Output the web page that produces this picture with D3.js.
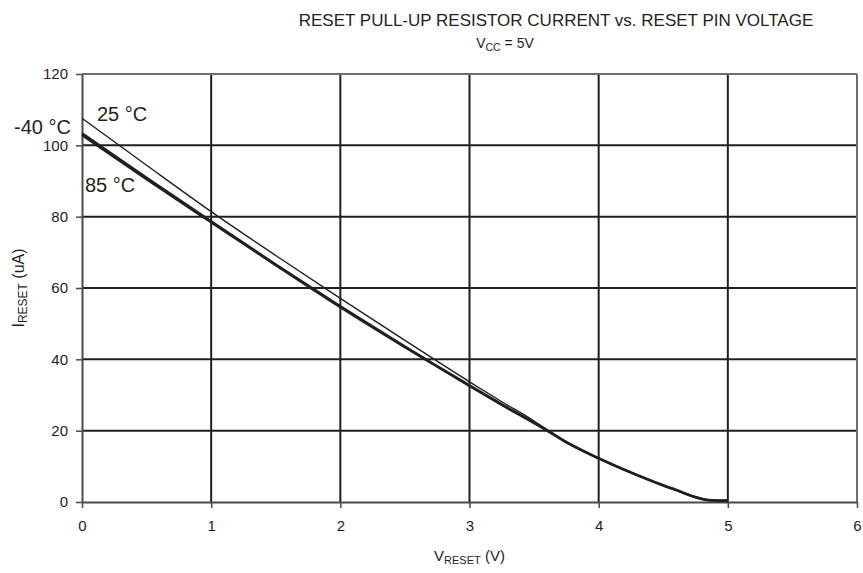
<!DOCTYPE html>
<html>
<head>
<meta charset="utf-8">
<script src="https://cdn.jsdelivr.net/npm/d3@7"></script>
<style>
  html, body { margin: 0; padding: 0; background: #fff; }
  svg { display: block; font-family: "Liberation Sans", Arial, sans-serif; }
</style>
</head>
<body>
<svg id="chart" width="863" height="573"></svg>
<script>
// Reset pin voltage (V) at which each current is sampled
const vReset = [0, 0.5, 1, 1.5, 2, 2.5, 3, 3.25, 3.5, 3.6, 3.75, 4, 4.25, 4.5, 4.6, 4.75, 4.85, 5];

// Pull-up current (uA) per temperature
const i25 = [107.6, 94.4, 81.4, 69.1, 57.1, 45.3, 33.7, 28.1, 22.7, 20.2, 16.9, 12.3, 8.3, 4.7, 3.4, 1.4, 0.6, 0.4];
const iMinus40 = [103.4, 90.9, 78.7, 66.6, 54.9, 43.6, 32.7, 27.4, 22.3, 20.2, 16.8, 12.3, 8.3, 4.7, 3.4, 1.4, 0.6, 0.4];
const i85 = [102.9, 90.5, 78.4, 66.4, 54.6, 43.4, 32.5, 27.2, 22.1, 20.0, 16.7, 12.2, 8.2, 4.6, 3.3, 1.3, 0.5, 0.3];

const xTicks = [0, 1, 2, 3, 4, 5, 6];
const yTicks = [0, 20, 40, 60, 80, 100, 120];

const seriesNames = ["-40 °C", "25 °C", "85 °C"];

const svg = d3.select("#chart");
const ink = "#231f20";

const x = d3.scaleLinear().domain([0, 6]).range([82, 857]);
const y = d3.scaleLinear().domain([0, 120]).range([502, 74]);

// Grid lines (interior)
const grid = svg.append("g");
grid.selectAll("line.v").data(xTicks.slice(1, -1)).join("line")
  .attr("x1", d => x(d)).attr("x2", d => x(d))
  .attr("y1", y(120)).attr("y2", y(0))
  .attr("stroke", ink).attr("stroke-width", 2);
grid.selectAll("line.h").data(yTicks.slice(1, -1)).join("line")
  .attr("x1", x(0)).attr("x2", x(6))
  .attr("y1", d => y(d)).attr("y2", d => y(d))
  .attr("stroke", ink).attr("stroke-width", 2);

// Frame: top and right edges
svg.append("line").attr("x1", x(0)).attr("x2", x(6)).attr("y1", y(120)).attr("y2", y(120))
  .attr("stroke", "#6d6d6d").attr("stroke-width", 2);
svg.append("line").attr("x1", x(6)).attr("x2", x(6)).attr("y1", y(120)).attr("y2", y(0))
  .attr("stroke", "#6d6d6d").attr("stroke-width", 2);

// Axes
const xAxis = d3.axisBottom(x).tickValues(xTicks).tickFormat(d3.format("d"))
  .tickSize(6).tickSizeOuter(0).tickPadding(12);
const yAxis = d3.axisLeft(y).tickValues(yTicks).tickFormat(d3.format("d"))
  .tickSize(6).tickSizeOuter(0).tickPadding(8);

const gx = svg.append("g").attr("transform", `translate(0,${y(0)})`).call(xAxis);
const gy = svg.append("g").attr("transform", `translate(${x(0)},0)`).call(yAxis);

[gx, gy].forEach(g => {
  g.select(".domain").attr("stroke", "#4a4a4a").attr("stroke-width", 2);
  g.selectAll(".tick line").attr("stroke", "#4a4a4a").attr("stroke-width", 1.5);
  g.selectAll(".tick text")
    .attr("fill", ink)
    .style("font-size", "15px")
    .style("font-family", "'Liberation Sans', Arial, sans-serif");
});

// Curves
const line = d3.line()
  .x(d => x(d[0]))
  .y(d => y(d[1]))
  .curve(d3.curveMonotoneX);

const series = [
  { name: seriesNames[0], values: iMinus40, width: 2.4 },
  { name: seriesNames[2], values: i85, width: 2.4 },
  { name: seriesNames[1], values: i25, width: 1.4 }
];

svg.append("g").selectAll("path").data(series).join("path")
  .attr("d", s => line(vReset.map((v, i) => [v, s.values[i]])))
  .attr("fill", "none")
  .attr("stroke", ink)
  .attr("stroke-width", s => s.width)
  .attr("stroke-linejoin", "round");

// Curve labels
const labels = svg.append("g").attr("fill", ink).style("font-size", "20px");
labels.append("text").attr("x", 97).attr("y", 121).text(seriesNames[1]);
labels.append("text").attr("x", 14).attr("y", 134).text(seriesNames[0]);
labels.append("text").attr("x", 85).attr("y", 192).text(seriesNames[2]);

// Title and subtitle
svg.append("text")
  .attr("x", 556).attr("y", 26)
  .attr("text-anchor", "middle")
  .attr("fill", ink)
  .style("font-size", "17px")
  .text("RESET PULL-UP RESISTOR CURRENT vs. RESET PIN VOLTAGE");

const sub = svg.append("text")
  .attr("x", 505).attr("y", 48)
  .attr("text-anchor", "middle")
  .attr("fill", ink)
  .style("font-size", "14px");
sub.append("tspan").text("V");
sub.append("tspan").attr("dy", 3).style("font-size", "10.5px").text("CC");
sub.append("tspan").attr("dy", -3).text(" = 5V");

// Axis titles
const xt = svg.append("text")
  .attr("x", x(3)).attr("y", 561)
  .attr("text-anchor", "middle")
  .attr("fill", ink)
  .style("font-size", "15px");
xt.append("tspan").text("V");
xt.append("tspan").attr("dy", 3).style("font-size", "11px").text("RESET");
xt.append("tspan").attr("dy", -3).text(" (V)");

const yt = svg.append("text")
  .attr("transform", `translate(24,${y(60)}) rotate(-90)`)
  .attr("text-anchor", "middle")
  .attr("fill", ink)
  .style("font-size", "16px");
yt.append("tspan").text("I");
yt.append("tspan").attr("dy", 3).style("font-size", "12px").text("RESET");
yt.append("tspan").attr("dy", -3).text(" (uA)");
</script>
</body>
</html>
